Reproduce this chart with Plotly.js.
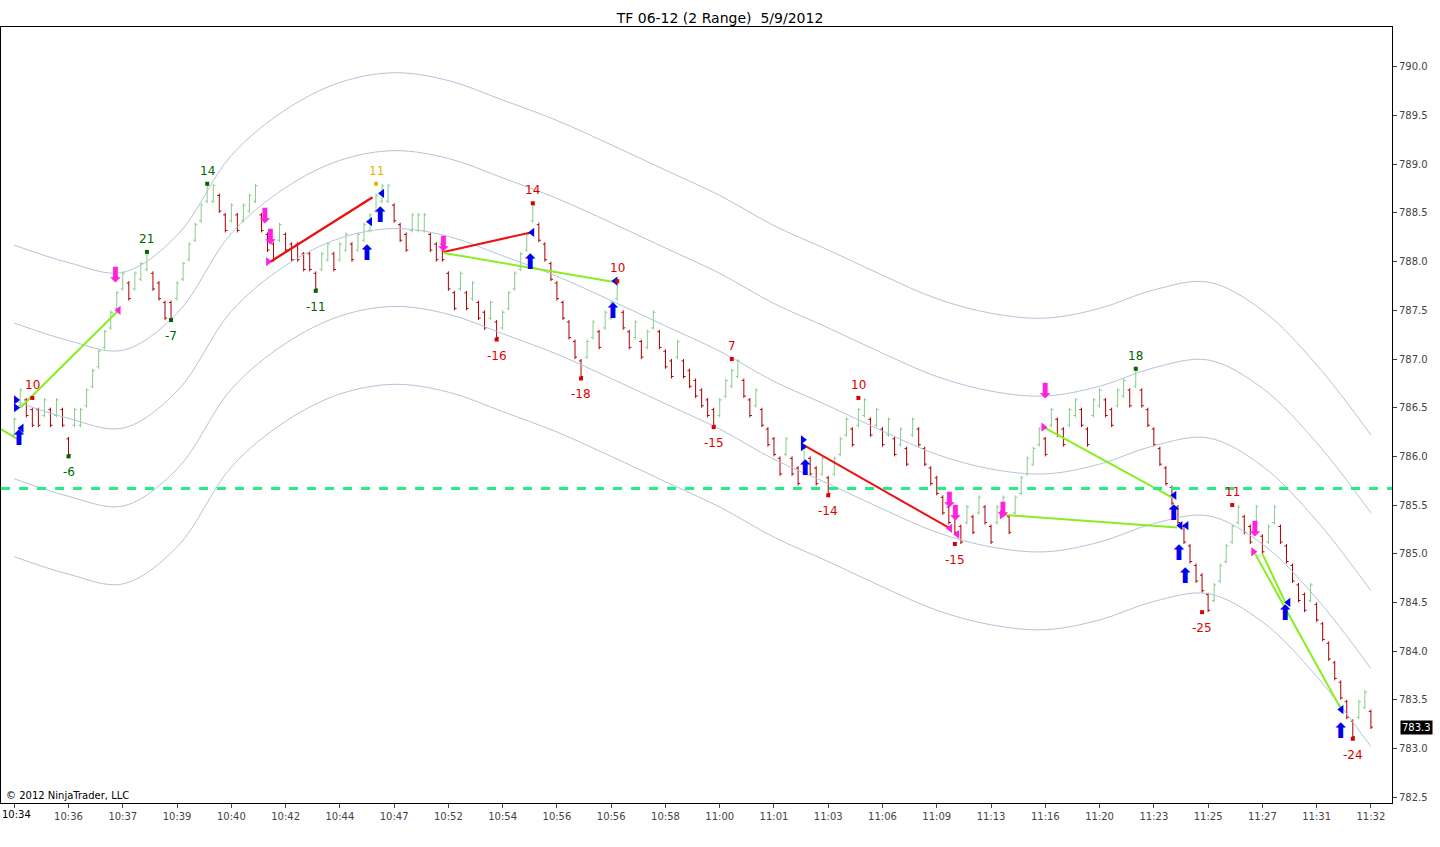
<!DOCTYPE html>
<html>
<head>
<meta charset="utf-8">
<script src="https://cdn.plot.ly/plotly-3.0.1.min.js"></script>
<style>body{margin:0;background:#fff}#chart{width:1440px;height:847px}</style>
</head>
<body>
<div id="chart"></div>
<script>
// bar highs (2 range bars, 0.2 each)
const barHighs = [
  786.4, 786.7, 786.6, 786.5, 786.5, 786.6, 786.5, 786.6, 786.5, 786.2,
  786.5, 786.5, 786.7, 786.9, 787.1, 787.3, 787.5, 787.7,
  787.9, 787.8, 787.9, 788.0, 788.1,
  787.9, 787.8, 787.6, 787.6,
  787.8, 788.0, 788.2, 788.4, 788.6, 788.8,
  788.8, 788.7, 788.5, 788.6, 788.5, 788.6, 788.7, 788.8,
  788.5, 788.3, 788.2,
  788.4, 788.3, 788.2, 788.2, 788.1, 788.1, 787.9,
  788.1, 788.2, 788.1, 788.2, 788.3, 788.2, 788.3, 788.4, 788.5, 788.7, 788.8,
  788.8, 788.6, 788.4, 788.3, 788.5, 788.5, 788.5, 788.3, 788.2, 788.2,
  787.9, 787.7, 787.9, 787.7, 787.8, 787.6, 787.5, 787.6, 787.4,
  787.5, 787.7, 787.9, 788.1, 788.3, 788.6,
  788.4, 788.2, 788.0, 787.8, 787.6, 787.4, 787.2, 787.0,
  787.2, 787.4, 787.3, 787.5, 787.6, 787.8,
  787.5, 787.3, 787.4, 787.2, 787.3, 787.5, 787.3, 787.1, 787.0, 787.2, 787.0, 786.9, 786.8, 786.7, 786.6, 786.5,
  786.6, 786.8, 786.9, 787.0,
  786.8, 786.6, 786.7, 786.5, 786.3, 786.2, 786.0, 786.2, 786.0, 785.9, 786.1, 786.0, 785.9, 786.0, 785.8,
  786.0, 786.2, 786.4, 786.3, 786.5, 786.6,
  786.4, 786.5, 786.3, 786.4, 786.2, 786.3, 786.1, 786.4, 786.3, 786.1, 785.9, 785.8, 785.6, 785.5, 785.4, 785.3,
  785.5, 785.4, 785.6, 785.5, 785.3, 785.5, 785.6, 785.4, 785.6, 785.8, 786.0, 786.1, 786.3, 786.2, 786.5, 786.4,
  786.3, 786.5, 786.6, 786.5, 786.3, 786.6, 786.7, 786.6, 786.5, 786.7, 786.8, 786.7, 786.9,
  786.7, 786.5, 786.3, 786.1, 785.9, 785.7, 785.5, 785.3, 785.1, 784.9, 784.8, 784.6,
  784.7, 784.9, 785.1, 785.3, 785.5,
  785.4, 785.3, 785.5, 785.2, 785.3, 785.5, 785.3, 785.1, 784.9, 784.7, 784.6, 784.7, 784.5, 784.3, 784.1, 783.9,
  783.7, 783.5, 783.3, 783.5, 783.6, 783.4
];
const tickLabels = ['10:34','10:36','10:37','10:39','10:40','10:42','10:44','10:47','10:52','10:54','10:56','10:56','10:58',
  '11:00','11:01','11:03','11:06','11:09','11:13','11:16','11:20','11:23','11:25','11:27','11:31','11:32'];
// band centre sampled every 9 bars
const bandIdx = [0,9,18,27,36,45,54,63,72,81,90,99,108,117,126,135,144,153,162,171,180,189,198,207,216,225];
const bandMid = [786.57,786.39,786.29,786.67,787.49,787.96,788.24,788.34,788.26,788.06,787.85,787.60,787.34,787.08,
  786.77,786.52,786.26,786.02,785.87,785.82,785.92,786.11,786.19,785.90,785.34,784.62];
const bandOffsets = [1.6, 0.8, 0, -0.8, -1.6];
// swing labels: bar, price, text, colour
const swingIdx = [3,9,22,26,32,50,60,80,86,94,100,116,119,135,140,156,186,197,202,222];
const swingPrice = [786.6,786.0,788.1,787.4,788.8,787.7,788.8,787.2,788.6,786.8,787.8,786.3,787.0,785.6,786.6,785.1,786.9,784.4,785.5,783.1];
const swingText = ['10','-6','21','-7','14','-11','11','-16','14','-18','10','-15','7','-14','10','-15','18','-25','11','-24'];
const swingColor = ['#dd0000','#006600','#006600','#006600','#006600','#006600','#ddbb00','#dd0000','#dd0000','#dd0000',
  '#dd0000','#dd0000','#dd0000','#dd0000','#dd0000','#dd0000','#006600','#dd0000','#dd0000','#dd0000'];
// trades: entry bar, entry price, exit bar, exit price, colour
const tradeFrom = [[-2.2,786.28],[1,786.5],[42.5,788.0],[59.4,788.66],[71.2,788.1],[71.2,788.09],[130.8,786.12],[164,785.4],[170.7,786.3],[205.8,785.0],[207,785.0]];
const tradeTo = [[0.7,786.17],[17.3,787.5],[59.4,788.66],[42.5,788.0],[85.7,788.3],[99.5,787.79],[155.2,785.26],[192.9,785.27],[192,785.58],[220,783.41],[210.8,784.5]];
const tradeColor = ['#88ee22','#88ee22','#ee1111','#ee1111','#ee1111','#88ee22','#ee1111','#88ee22','#88ee22','#88ee22','#88ee22'];
// execution markers
const upArrowX = [0.8,58.5,60.7,85.6,99.3,131.2,192.3,193.2,194.2,210.8,220];
const upArrowY = [786.17,788.07,788.46,787.98,787.48,785.86,785.4,784.99,784.75,784.37,783.16];
const downArrowX = [16.8,41.6,42.5,71.2,155.1,156.1,164,171,205.8];
const downArrowY = [787.84,788.45,788.24,788.16,785.53,785.4,785.43,786.65,785.24];
const blueLeftX = [1.2,59,61,85.9,99.7,192.4,193.4,194.4,211.3,220.1];
const blueLeftY = [786.29,788.41,788.7,788.3,787.8,785.6,785.29,785.29,784.5,783.4];
const blueRightX = [0.3,0.3,130.8,130.8];
const blueRightY = [786.58,786.5,786.17,786.1];
const pinkRightX = [42.1,170.7,205.5,163.8];
const pinkRightY = [788.0,786.3,785.02,785.4];
const pinkLeftX = [17.3,155.2,156.4];
const pinkLeftY = [787.5,785.26,785.2];

const open = [], high = [], low = [], close = [], xs = [];
let up = true;
barHighs.forEach((h, i) => {
  if (i > 0 && h > barHighs[i - 1]) up = true;
  else if (i > 0 && h < barHighs[i - 1]) up = false;
  const l = +(h - 0.2).toFixed(1);
  xs.push(i);
  high.push(h);
  low.push(l);
  open.push(up ? l + 0.02 : h - 0.02);
  close.push(up ? h - 0.02 : l + 0.02);
});

const traces = [];
bandOffsets.forEach((off) => {
  traces.push({
    x: bandIdx, y: bandMid.map((v) => v + off), mode: 'lines', hoverinfo: 'none',
    line: { color: '#b4c4d8', width: 1, shape: 'spline' }, showlegend: false,
  });
});
traces.push({
  type: 'ohlc', x: xs, open, high, low, close, tickwidth: 0.35, hoverinfo: 'none', showlegend: false,
  increasing: { line: { color: '#88cc88', width: 1 } },
  decreasing: { line: { color: '#aa0000', width: 1 } },
});
tradeFrom.forEach((p, i) => {
  traces.push({
    x: [p[0], tradeTo[i][0]], y: [p[1], tradeTo[i][1]], mode: 'lines', hoverinfo: 'none', showlegend: false,
    line: { color: tradeColor[i], width: 2 },
  });
});
const mk = (x, y, symbol, color, size) => ({
  x, y, mode: 'markers', hoverinfo: 'none', showlegend: false, marker: { symbol, color, size },
});
// arrows drawn as bold glyphs
const arrow = (x, y, glyph, color) => ({
  x, y, mode: 'text', text: x.map(() => glyph), hoverinfo: 'none', showlegend: false,
  textfont: { size: 21, color, family: 'DejaVu Sans' },
});
traces.push(arrow(upArrowX, upArrowY, '⬆', '#0000ee'));
traces.push(arrow(downArrowX, downArrowY, '⬇', '#ff22dd'));
traces.push(mk(blueLeftX, blueLeftY, 'triangle-left', '#0000ee', 8));
traces.push(mk(blueRightX, blueRightY, 'triangle-right', '#0000ee', 8));
traces.push(mk(pinkRightX, pinkRightY, 'triangle-right', '#ff22dd', 8));
traces.push(mk(pinkLeftX, pinkLeftY, 'triangle-left', '#ff22dd', 8));
traces.push({
  x: swingIdx, y: swingPrice, mode: 'markers', hoverinfo: 'none', showlegend: false,
  marker: { symbol: 'square', size: 4, color: swingColor },
});

const annotations = swingText.map((t, i) => {
  const isHigh = !t.startsWith('-');
  return {
    x: swingIdx[i], y: swingPrice[i], text: t, showarrow: false,
    yshift: isHigh ? 13 : -16, font: { size: 12, color: swingColor[i], family: 'DejaVu Sans' },
  };
});
annotations.push({
  xref: 'paper', yref: 'paper', x: 0.002, y: 0.0, xanchor: 'left', yanchor: 'bottom',
  text: '© 2012 NinjaTrader, LLC', showarrow: false, font: { size: 10, color: '#000', family: 'DejaVu Sans' },
});
annotations.push({
  xref: 'paper', yref: 'paper', x: 0, y: 0, yanchor: 'top', xanchor: 'left', yshift: -4, xshift: -1,
  text: tickLabels[0], showarrow: false, font: { size: 10, color: '#000', family: 'DejaVu Sans' },
});
annotations.push({
  x: 1, xref: 'paper', xanchor: 'left', y: close[close.length - 1], yref: 'y', text: '783.3',
  showarrow: false, bgcolor: '#000', font: { size: 10, color: '#fff', family: 'DejaVu Sans' }, xshift: 8,
});

const layout = {
  width: 1440, height: 847,
  margin: { l: 1, r: 48, t: 27, b: 44 },
  paper_bgcolor: '#fff', plot_bgcolor: '#fff',
  title: { text: 'TF 06-12 (2 Range)  5/9/2012', x: 0.5, y: 0.985, font: { size: 14, color: '#000', family: 'DejaVu Sans' } },
  xaxis: {
    range: [-2.2, 228.5], showgrid: false, zeroline: false, rangeslider: { visible: false },
    tickvals: tickLabels.map((_, i) => i * 9), ticktext: tickLabels.map((t, i) => (i === 0 ? '' : t)),
    ticks: 'outside', ticklen: 4,
    showline: true, mirror: true, linecolor: '#000', tickfont: { size: 10, family: 'DejaVu Sans' },
  },
  yaxis: {
    range: [782.44, 790.41], side: 'right', showgrid: false, zeroline: false,
    dtick: 0.5, tick0: 782.5, tickformat: '.1f', ticks: 'outside', ticklen: 4,
    showline: true, mirror: true, linecolor: '#000', tickfont: { size: 10, family: 'DejaVu Sans' },
  },
  shapes: [{
    type: 'line', xref: 'paper', x0: 0, x1: 1, y0: 785.67, y1: 785.67,
    line: { color: '#22ee88', width: 3, dash: 'dash' },
  }],
  annotations,
};

Plotly.newPlot('chart', traces, layout, { displayModeBar: false, staticPlot: true });
</script>
</body>
</html>
